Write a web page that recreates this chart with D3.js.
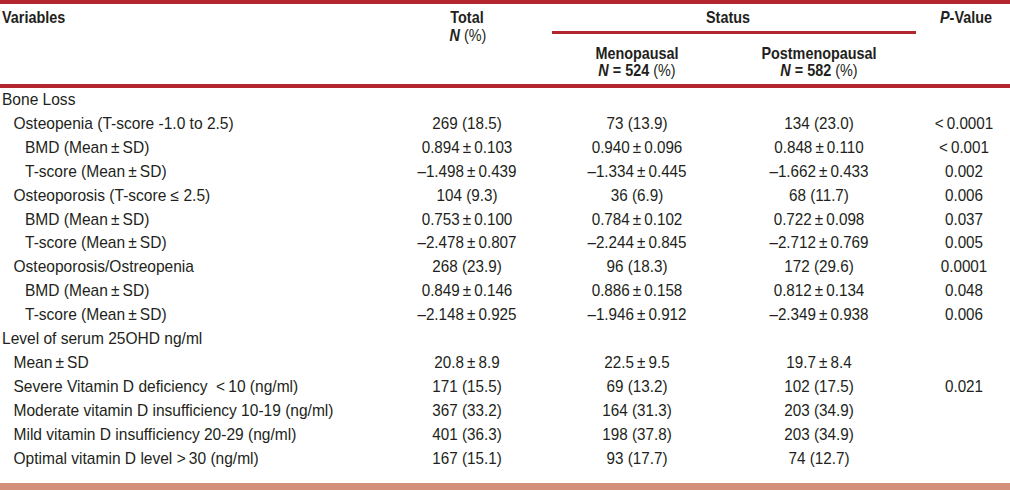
<!DOCTYPE html>
<html>
<head>
<meta charset="utf-8">
<script src="https://cdn.jsdelivr.net/npm/d3@7"></script>
<style>
body { margin: 0; background: #fff; }
text { font-family: "Liberation Sans", Arial, sans-serif; font-size: 16.2px; fill: #231f20; }
.bold { font-weight: bold; }
.head { font-size: 16px; }
</style>
</head>
<body>
<div id="tbl"></div>
<script>

// table contents
var pm = "\u2009\u00b1\u2009";
var labels = [
    "Bone Loss",
    "Osteopenia (T-score -1.0 to 2.5)",
    "BMD (Mean" + pm + "SD)",
    "T-score (Mean" + pm + "SD)",
    "Osteoporosis (T-score \u2264 2.5)",
    "BMD (Mean" + pm + "SD)",
    "T-score (Mean" + pm + "SD)",
    "Osteoporosis/Ostreopenia",
    "BMD (Mean" + pm + "SD)",
    "T-score (Mean" + pm + "SD)",
    "Level of serum 25OHD ng/ml",
    "Mean" + pm + "SD",
    "Severe Vitamin D deficiency  <\u200910 (ng/ml)",
    "Moderate vitamin D insufficiency 10-19 (ng/ml)",
    "Mild vitamin D insufficiency 20-29 (ng/ml)",
    "Optimal vitamin D level >\u200930 (ng/ml)"
];
var indent = [0, 1, 2, 2, 1, 2, 2, 1, 2, 2, 0, 1, 1, 1, 1, 1];

var total = ["", "269 (18.5)", "0.894" + pm + "0.103", "\u20131.498" + pm + "0.439", "104 (9.3)", "0.753" + pm + "0.100",
    "\u20132.478" + pm + "0.807", "268 (23.9)", "0.849" + pm + "0.146", "\u20132.148" + pm + "0.925", "",
    "20.8" + pm + "8.9", "171 (15.5)", "367 (33.2)", "401 (36.3)", "167 (15.1)"];
var meno = ["", "73 (13.9)", "0.940" + pm + "0.096", "\u20131.334" + pm + "0.445", "36 (6.9)", "0.784" + pm + "0.102",
    "\u20132.244" + pm + "0.845", "96 (18.3)", "0.886" + pm + "0.158", "\u20131.946" + pm + "0.912", "",
    "22.5" + pm + "9.5", "69 (13.2)", "164 (31.3)", "198 (37.8)", "93 (17.7)"];
var post = ["", "134 (23.0)", "0.848" + pm + "0.110", "\u20131.662" + pm + "0.433", "68 (11.7)", "0.722" + pm + "0.098",
    "\u20132.712" + pm + "0.769", "172 (29.6)", "0.812" + pm + "0.134", "\u20132.349" + pm + "0.938", "",
    "19.7" + pm + "8.4", "102 (17.5)", "203 (34.9)", "203 (34.9)", "74 (12.7)"];
var pval = ["", "<\u20090.0001", "<\u20090.001", "0.002", "0.006", "0.037", "0.005", "0.0001", "0.048", "0.006", "",
    "", "0.021", "", "", ""];

var columns = ["total", "meno", "post", "pval"];

var width = 1010, height = 490;
var darkRed = "#b3262e", salmon = "#d48f7b";
var sxLabel = 0.96, sxBody = 0.94, sxHead = 0.9;   // narrow the face a little, like the condensed original

var svg = d3.select("#tbl").append("svg")
        .attr("width", width)
        .attr("height", height);

var y = d3.scalePoint().domain(d3.range(labels.length)).range([99, 458]);
var x = d3.scaleOrdinal().domain(columns).range([467, 637, 819, 964]);
var ind = d3.scaleLinear().domain([0, 2]).range([2, 25]);

function squeeze(px, py, sx) {
    return "translate(" + px + "," + py + ") scale(" + sx + ",1)";
}

// rules
svg.append("rect").attr("x", 0).attr("y", 0).attr("width", width).attr("height", 4).attr("fill", darkRed);
svg.append("rect").attr("x", 0).attr("y", 84).attr("width", width).attr("height", 4).attr("fill", darkRed);
svg.append("rect").attr("x", 552).attr("y", 31).attr("width", 364).attr("height", 3).attr("fill", darkRed);
svg.append("rect").attr("x", 0).attr("y", 483).attr("width", width).attr("height", 7).attr("fill", salmon);

// header
var head = svg.append("g").attr("class", "header");
head.append("text").attr("class", "bold head").attr("transform", squeeze(2, 23, sxHead)).text("Variables");
head.append("text").attr("class", "bold head").attr("transform", squeeze(x("total"), 23, sxHead))
    .attr("text-anchor", "middle").text("Total");
var np = head.append("text").attr("class", "head").attr("transform", squeeze(x("total") + 1, 41, sxHead))
    .attr("text-anchor", "middle");
np.append("tspan").attr("class", "bold").style("font-style", "italic").text("N");
np.append("tspan").text(" (%)");
head.append("text").attr("class", "bold head").attr("transform", squeeze((x("meno") + x("post")) / 2, 23, sxHead))
    .attr("text-anchor", "middle").text("Status");
var pv = head.append("text").attr("class", "bold head").attr("transform", squeeze(x("pval") + 2, 23, sxHead))
    .attr("text-anchor", "middle");
pv.append("tspan").style("font-style", "italic").text("P");
pv.append("tspan").text("-Value");

[["meno", "Menopausal", "524"], ["post", "Postmenopausal", "582"]].forEach(function(h) {
    head.append("text").attr("class", "bold head").attr("transform", squeeze(x(h[0]), 59, sxHead))
        .attr("text-anchor", "middle").text(h[1]);
    var t = head.append("text").attr("class", "head").attr("transform", squeeze(x(h[0]), 76, sxHead))
        .attr("text-anchor", "middle");
    t.append("tspan").attr("class", "bold").style("font-style", "italic").text("N");
    t.append("tspan").attr("class", "bold").text(" = " + h[2]);
    t.append("tspan").text(" (%)");
});

// body rows
var rows = svg.selectAll("g.row")
        .data(labels)
      .enter().append("g")
        .attr("class", "row")
        .attr("transform", function(d, i) { return "translate(0," + y(i) + ")"; });

rows.append("text")
    .attr("transform", function(d, i) { return squeeze(ind(indent[i]), 0, sxLabel); })
    .attr("dy", "0.36em")
    .style("white-space", "pre")
    .text(function(d) { return d; });

var cols = {total: total, meno: meno, post: post, pval: pval};
columns.forEach(function(c) {
    rows.append("text")
        .attr("transform", squeeze(x(c), 0, sxBody))
        .attr("dy", "0.36em")
        .attr("text-anchor", "middle")
        .text(function(d, i) { return cols[c][i]; });
});

</script>
</body>
</html>
